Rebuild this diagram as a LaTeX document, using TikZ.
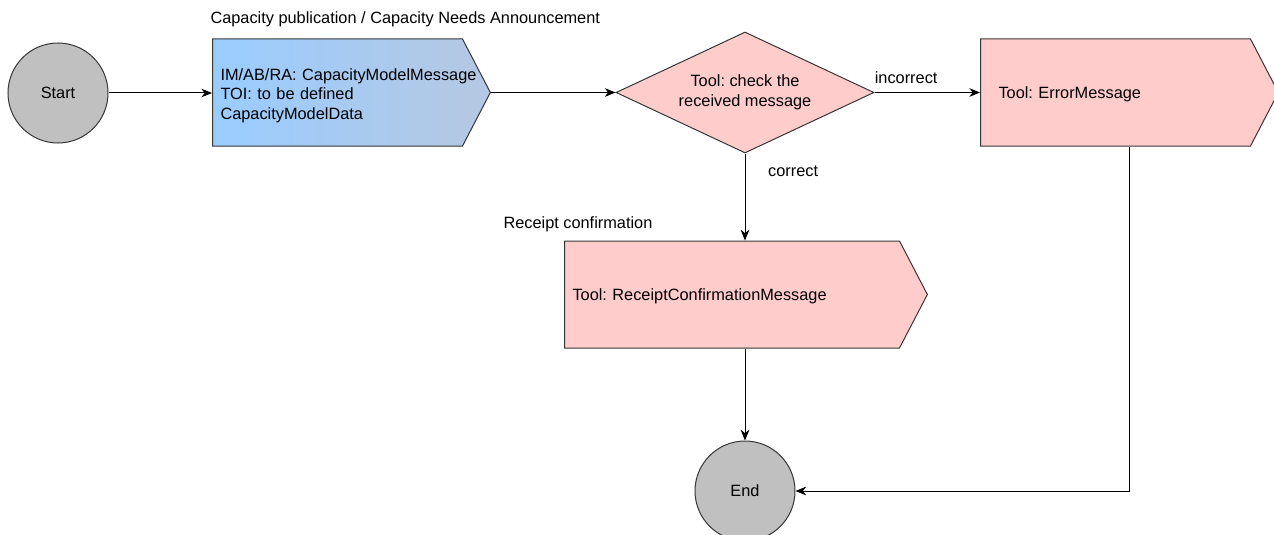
\documentclass[tikz,border=0pt]{standalone}
\usepackage{fontspec}
\setmainfont{Liberation Sans}
\usetikzlibrary{shapes.geometric,shapes.symbols,arrows.meta,calc}

\definecolor{msgblueA}{RGB}{153,204,255}
\definecolor{msgblueB}{RGB}{182,200,226}
\definecolor{toolpink}{RGB}{255,204,204}
\definecolor{termgrey}{RGB}{192,192,192}
\definecolor{linegrey}{RGB}{54,54,54}

\tikzset{every picture/.style={line width=0.75pt}}
\tikzset{
	every node/.style={font=\fontsize{12.25}{14.6}\selectfont\frenchspacing},
	terminal/.style={circle,draw=linegrey,fill=termgrey,minimum size=75pt,inner sep=0pt},
	msgbox/.style={signal,signal to=east,signal pointer angle=125,draw=linegrey,
		minimum height=80.25pt,align=left,inner xsep=6pt,text depth=0pt,anchor=west},
	checkbox/.style={diamond,draw=linegrey,fill=toolpink,minimum width=193.5pt,
		minimum height=90.75pt,aspect=2.13,inner sep=0pt,align=center},
	flow/.style={-{Stealth[length=8pt,width=6.5pt,inset=2.5pt]},black},
}

\begin{document}
\begin{tikzpicture}[x=0.75pt,y=0.75pt,yscale=-1,xscale=1]
	\useasboundingbox (0,0) rectangle (1274,535);
	
	% Start / End
	\node [terminal] (start) at (58,93) {Start};
	\node [terminal] (end) at (745,491) {End};
	
	% Message boxes
	\node [msgbox,left color=msgblueA,right color=msgblueB,text width=175.5pt,text depth=27.5pt] (capmsg) at (212,92.5) {\mbox{IM/AB/RA: CapacityModelMessage}\\TOI: to be defined\\CapacityModelData};
	\node [msgbox,fill=toolpink,text width=175.5pt,inner xsep=13.5pt] (errmsg) at (980,92.5) {Tool: ErrorMessage};
	\node [msgbox,fill=toolpink,text width=239.25pt] (rcptmsg) at (564,294.5) {Tool: ReceiptConfirmationMessage};
	
	% Check
	\node [checkbox] (check) at (745,92.5) {Tool: check the\\received message};
	
	% Text Node
	\node [anchor=west,inner sep=0pt] (captitle) at (210,19) {Capacity publication / Capacity Needs Announcement};
	\node [anchor=west,inner sep=0pt] (rcpttitle) at (503,224) {Receipt confirmation};
	
	% Connection
	\draw [flow] (start) -- (start -| capmsg.west);
	\draw [flow] (capmsg.east) -- (check.west);
	\draw [flow] (check.east) -- node [pos=0.3,above,inner sep=0pt,yshift=6pt] (lblincorrect) {incorrect} (errmsg.west);
	\draw [flow] (check.south) -- node [pos=0.2,right,inner sep=0pt,xshift=17pt] (lblcorrect) {correct} (rcptmsg.north -| check.south);
	\draw [flow] (rcptmsg.south -| end.north) -- (end.north);
	\draw [flow] (errmsg.south -| {$(errmsg.west)!0.5!(errmsg.east)$}) |- (end.east);
	
\end{tikzpicture}
\end{document}
